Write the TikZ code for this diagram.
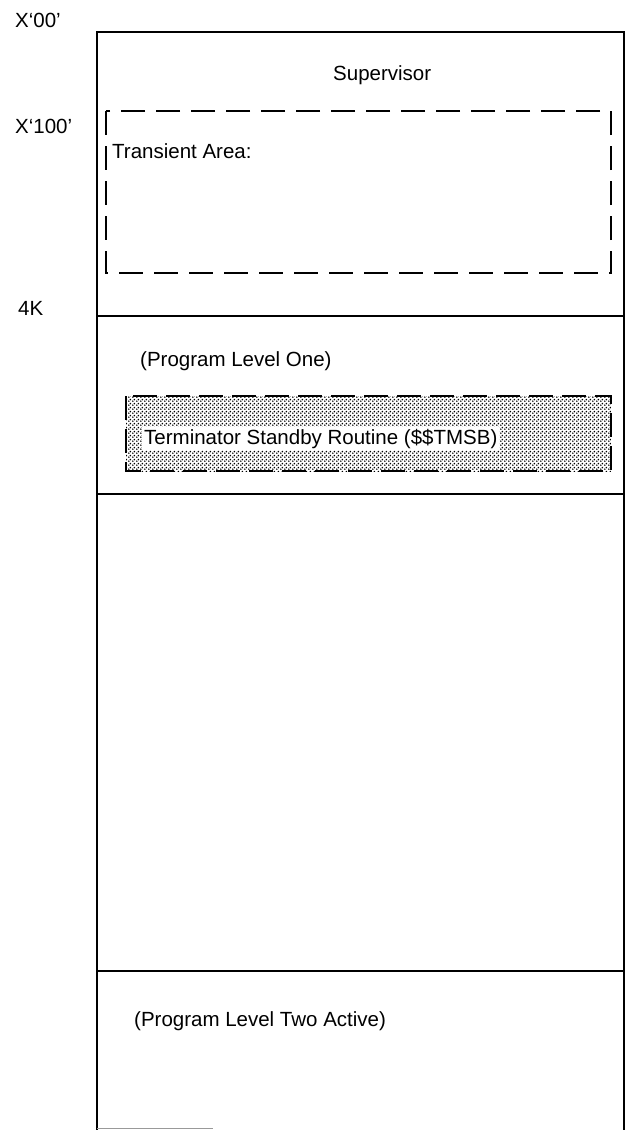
\documentclass[tikz,border=0pt]{standalone}
\usepackage{fontspec}
\setmainfont{Liberation Sans}
\usetikzlibrary{patterns}
\pgfdeclarepatternformonly{tmdots}{\pgfpointorigin}{\pgfpoint{4pt}{4pt}}{\pgfpoint{4pt}{4pt}}{%
  \pgfpathcircle{\pgfpoint{1pt}{1pt}}{1.05pt}%
  \pgfpathcircle{\pgfpoint{3pt}{3pt}}{1.05pt}%
  \pgfusepath{fill}}
\begin{document}
\begin{tikzpicture}[x=1pt,y=-1pt,
  lbl/.style={inner sep=0pt, anchor=base west, font=\fontsize{20.5}{24}\selectfont},
  frame/.style={line width=2.6pt, line join=miter},
  sepline/.style={line width=2pt},
  dashbox/.style={line width=2pt, dash pattern=on 24pt off 11pt},
  shadebox/.style={line width=2pt, dash pattern=on 24pt off 9pt, pattern=tmdots, pattern color=black}]
\useasboundingbox (0,0) rectangle (626,1130);
\draw[frame] (97,1130) -- (97,32) -- (624,32) -- (624,1130);
\draw[sepline] (97,316) -- (624,316);
\draw[sepline] (97,494) -- (624,494);
\draw[sepline] (97,971) -- (624,971);
\draw[line width=1.2pt, black!40] (97,1128.5) -- (213,1128.5);
\draw[dashbox] (106,111) rectangle (611,273);
\draw[shadebox] (126,396) rectangle (611,471);
\node[lbl] (x00) at (15,27) {X‘00’};
\node[lbl] (x100) at (15,133) {X‘100’};
\node[lbl] (k4) at (18,315) {4K};
\node[lbl] (sup) at (333,80) {Supervisor};
\node[lbl] (trans) at (112,158) {Transient Area:};
\node[lbl] (plone) at (140,366) {(Program Level One)};
\node[lbl, fill=white, inner sep=2pt] (tmsb) at (142,444) {Terminator Standby Routine (\$\$TMSB)};
\node[lbl] (pltwo) at (134,1026) {(Program Level Two Active)};
\end{tikzpicture}
\end{document}
